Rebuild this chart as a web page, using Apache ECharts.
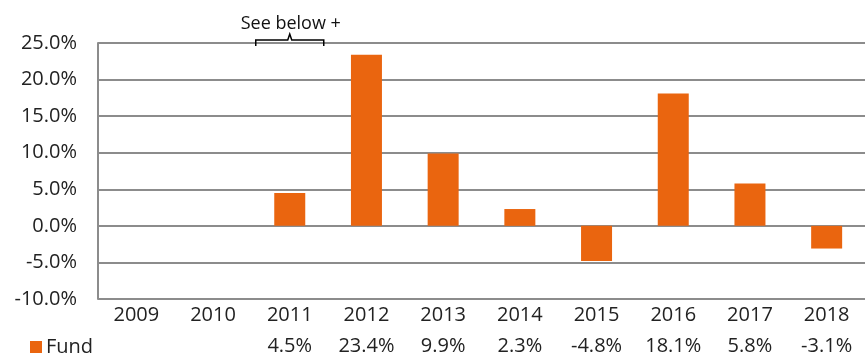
<!DOCTYPE html>
<html>
<head>
    <meta charset="utf-8">
    <title>Fund annual returns</title>
    <script src="https://cdn.jsdelivr.net/npm/echarts@6/dist/echarts.min.js"></script>
    <style>
        body { margin: 0; background: #fff; }
    </style>
</head>
<body>
    <div id="main" style="width: 865px;height:356px;"></div>
    <script type="text/javascript">
        // chart data
        var years = ['2009', '2010', '2011', '2012', '2013', '2014', '2015', '2016', '2017', '2018'];
        var fundReturns = [null, null, 4.5, 23.4, 9.9, 2.3, -4.8, 18.1, 5.8, -3.1];
        var yTicks = { min: -10, max: 25, step: 5 };

        var font = '"Open Sans", "Noto Sans", sans-serif';
        var orange = '#EA650F';

        var myChart = echarts.init(document.getElementById('main'));

        var option = {
            animation: false,
            grid: { left: 98, top: 43, width: 773, height: 256 },
            legend: {
                left: 25, top: 332,
                icon: 'rect', itemWidth: 12, itemHeight: 12, itemGap: 4,
                textStyle: { fontFamily: font, fontSize: 20, color: '#222', padding: [0, 0, 0, -1] },
                data: ['Fund']
            },
            xAxis: [{
                type: 'category',
                data: years,
                position: 'bottom',
                axisLine: { show: false },
                axisTick: { show: false },
                axisLabel: { fontFamily: font, fontSize: 20, color: '#222', margin: 6 }
            }, {
                // values row of the data table under the chart
                type: 'category',
                data: fundReturns.map(function (v) { return v === null ? '' : v.toFixed(1) + '%'; }),
                position: 'bottom',
                offset: 31,
                axisLine: { show: false },
                axisTick: { show: false },
                axisLabel: { fontFamily: font, fontSize: 20, color: '#222', margin: 6 }
            }],
            yAxis: {
                type: 'value',
                min: yTicks.min, max: yTicks.max, interval: yTicks.step,
                axisLine: { show: true, lineStyle: { color: '#8c8c8c', width: 2 } },
                axisTick: { show: false },
                splitLine: { lineStyle: { color: '#8c8c8c', width: 2 } },
                axisLabel: {
                    fontFamily: font, fontSize: 20, color: '#222', margin: 21,
                    formatter: function (v) { return v.toFixed(1) + '%'; }
                }
            },
            series: [{
                name: 'Fund',
                type: 'bar',
                data: fundReturns,
                barWidth: 31,
                itemStyle: { color: orange }
            }]
        };

        myChart.setOption(option);

        // "See below +" bracket over 2011
        var cx = myChart.convertToPixel({ xAxisIndex: 0 }, '2011');
        var topY = myChart.convertToPixel({ yAxisIndex: 0 }, yTicks.max);
        var half = 34;
        myChart.setOption({
            graphic: [{
                type: 'polyline',
                shape: { points: [[cx - half, topY + 3], [cx - half, topY - 3], [cx - 2, topY - 3], [cx, topY - 9], [cx + 2, topY - 3], [cx + half, topY - 3], [cx + half, topY + 3]] },
                style: { stroke: '#000', lineWidth: 1.5, fill: null }
            }, {
                type: 'text',
                x: cx + 1, y: topY - 19,
                style: { text: 'See below +', font: '18px ' + font, fill: '#111', align: 'center', verticalAlign: 'middle' }
            }]
        });
    </script>
</body>
</html>
